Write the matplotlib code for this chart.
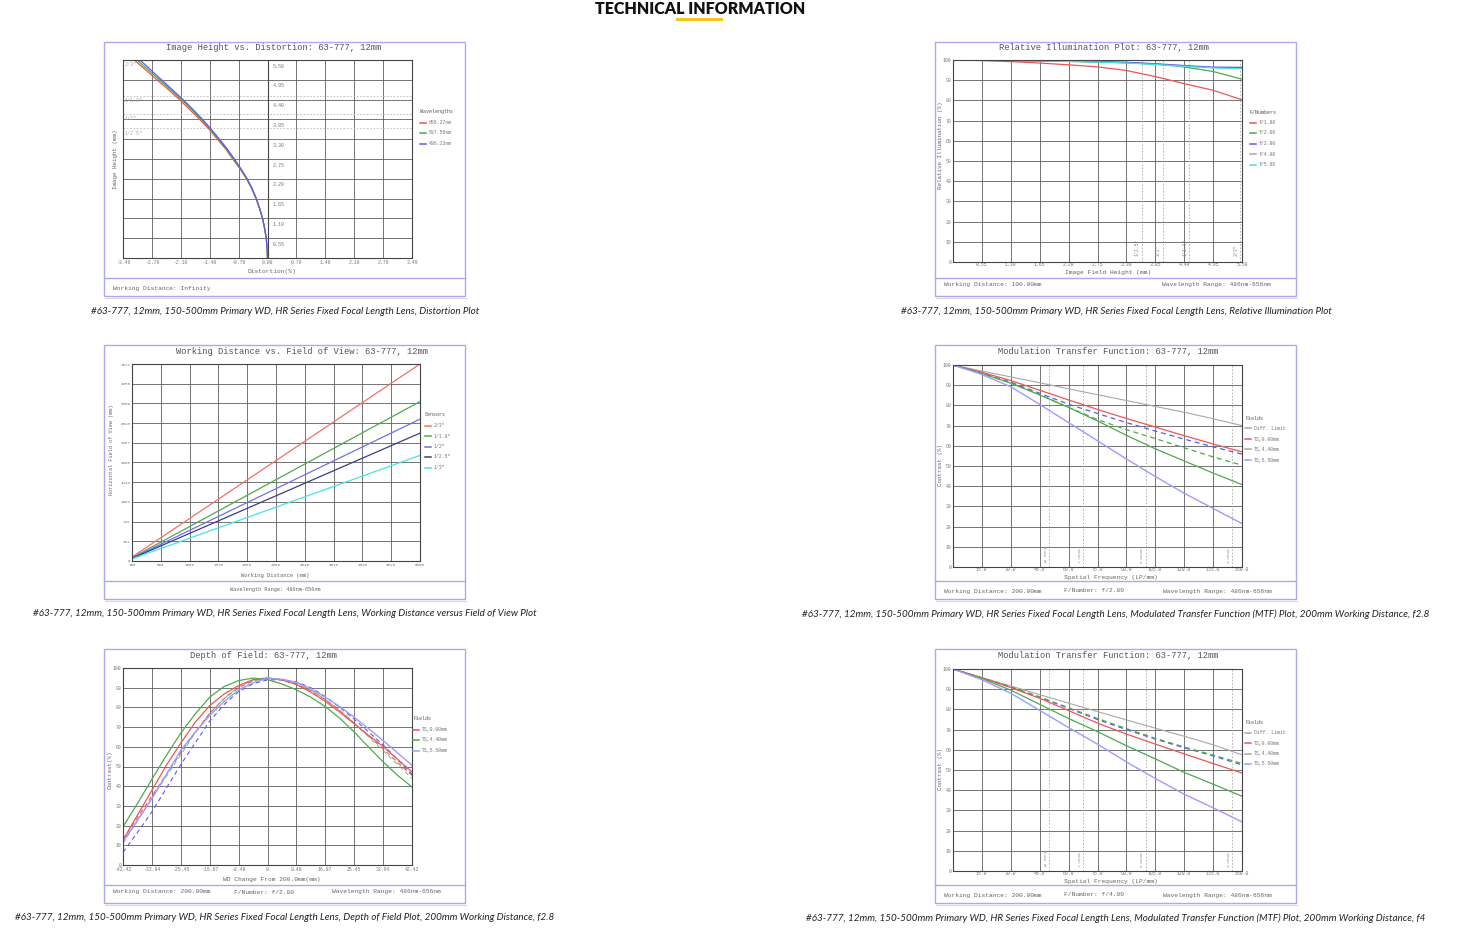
"""
Technical information sheet for lens #63-777 (12mm HR series):
six small monospace lens plots in framed boxes, each with a caption.
Writes out.png (1464x944).
"""
import matplotlib
matplotlib.use("Agg")
import matplotlib.pyplot as plt
from matplotlib.lines import Line2D
from matplotlib.patches import Rectangle

# ---------------- data ----------------
# distortion plot: image height (mm) vs distortion (%)
dist_height = [0, 0.275, 0.55, 0.825, 1.10, 1.375, 1.65, 1.925, 2.20, 2.475, 2.75,
               3.025, 3.30, 3.575, 3.85, 4.125, 4.40, 4.675, 4.95, 5.225, 5.50]
dist_656 = [0, -0.01, -0.03, -0.07, -0.12, -0.19, -0.28, -0.38, -0.51, -0.66, -0.84,
            -1.01, -1.21, -1.41, -1.64, -1.88, -2.13, -2.39, -2.67, -2.94, -3.22]
dist_588 = [0, -0.01, -0.03, -0.07, -0.12, -0.19, -0.27, -0.37, -0.50, -0.65, -0.82,
            -0.99, -1.18, -1.38, -1.60, -1.83, -2.08, -2.34, -2.61, -2.88, -3.15]
dist_486 = [0, -0.01, -0.03, -0.07, -0.12, -0.19, -0.27, -0.37, -0.49, -0.64, -0.80,
            -0.97, -1.16, -1.36, -1.57, -1.80, -2.04, -2.30, -2.56, -2.82, -3.08]
dist_xticks = [-3.49, -2.79, -2.10, -1.40, -0.70, 0.00, 0.70, 1.40, 2.10, 2.79, 3.49]
dist_yticks = [0.55, 1.10, 1.65, 2.20, 2.75, 3.30, 3.85, 4.40, 4.95, 5.50]
sensor_names = ['2/3"', '1/1.8"', '1/2"', '1/2.5"']
sensor_half_diag = [5.5, 4.5, 4.0, 3.6]

# relative illumination: % vs image field height (mm)
ri_height = [0, 0.55, 1.10, 1.65, 2.20, 2.75, 3.30, 3.85, 4.40, 4.95, 5.50]
ri_f18 = [100, 99.7, 99.2, 98.5, 97.6, 96.6, 94.8, 91.8, 88.3, 85.0, 80.3]
ri_f20 = [100, 99.9, 99.7, 99.5, 99.3, 99.0, 98.7, 98.0, 96.6, 94.3, 90.5]
ri_f28 = [100, 99.9, 99.8, 99.7, 99.5, 99.2, 98.8, 98.1, 97.2, 96.4, 96.3]
ri_f40 = [100, 99.9, 99.8, 99.6, 99.4, 99.1, 98.6, 97.9, 97.0, 96.2, 95.9]
ri_f56 = [100, 99.9, 99.8, 99.6, 99.3, 99.0, 98.5, 97.8, 96.9, 96.1, 95.7]
ri_labels = ["f/1.80", "f/2.00", "f/2.80", "f/4.00", "f/5.60"]
ri_sensor_x = [3.6, 4.0, 4.5, 5.47]
ri_sensor_names = ['1/2.5"', '1/2"', '1/1.8"', '2/3"']

# working distance vs horizontal field of view (straight lines, end points)
wd_x = [100, 5000]
fov_23 = [72, 3611]
fov_118 = [59, 2923]
fov_12 = [52, 2600]
fov_125 = [47, 2344]
fov_13 = [39, 1936]
wd_xticks = [100, 590, 1080, 1570, 2060, 2550, 3040, 3530, 4020, 4510, 5000]
wd_yticks = [0, 361, 722, 1083, 1444, 1806, 2167, 2528, 2889, 3250, 3611]
wd_labels = ['2/3"', '1/1.8"', '1/2"', '1/2.5"', '1/3"']

# MTF at f/2.8 and f/4, 200mm WD
freq = [0, 15, 30, 45, 60, 75, 90, 105, 120, 135, 150]
mtf28_diff = [100, 97.0, 94.1, 91.2, 88.2, 85.3, 82.4, 79.5, 76.6, 73.4, 70.0]
mtf28_t0 = [100, 96.4, 92.3, 87.5, 82.7, 78.0, 73.5, 69.3, 65.0, 60.9, 57.0]
mtf28_t44 = [100, 95.8, 91.0, 85.2, 79.0, 72.3, 65.2, 58.5, 52.5, 46.5, 40.8]
mtf28_s44 = [100, 95.8, 91.2, 85.3, 79.0, 73.0, 68.0, 63.6, 59.0, 54.5, 50.4]
mtf28_t55 = [100, 95.3, 89.2, 80.5, 71.5, 62.5, 53.5, 44.8, 36.5, 29.0, 21.5]
mtf28_s55 = [100, 96.0, 91.5, 86.0, 80.6, 76.0, 71.5, 67.3, 63.3, 59.5, 55.9]

mtf40_diff = [100, 95.8, 91.6, 87.3, 83.1, 78.9, 74.8, 70.7, 66.7, 62.5, 57.5]
mtf40_t0 = [100, 95.6, 90.8, 85.5, 79.4, 73.2, 67.8, 62.8, 58.0, 53.2, 48.5]
mtf40_t44 = [100, 95.3, 89.5, 82.5, 75.5, 69.0, 62.0, 55.5, 48.8, 43.0, 37.0]
mtf40_s44 = [100, 95.6, 91.2, 86.2, 80.8, 75.5, 70.5, 65.7, 61.4, 57.4, 53.2]
mtf40_t55 = [100, 94.7, 88.0, 79.5, 71.0, 62.8, 54.0, 45.8, 38.0, 31.3, 24.3]
mtf40_s55 = [100, 95.5, 91.0, 86.0, 80.5, 75.0, 70.0, 65.3, 61.0, 57.0, 52.5]

mtf_xticks = [15, 30, 45, 60, 75, 90, 105, 120, 135, 150]
pixel_nyquist = [50.0, 67.6, 100.0, 144.9]
pixel_names = ["10.00um", "7.40um", "5.00um", "3.45um"]
field_labels = ["Diff. Limit", "TS,0.00mm", "TS,4.40mm", "TS,5.50mm"]

# depth of field: contrast vs WD change (mm)
dof_x = [-42.42, -38.18, -33.94, -29.69, -25.45, -21.21, -16.97, -12.73, -8.48, -4.24, 0,
         4.24, 8.48, 12.73, 16.97, 21.21, 25.45, 29.69, 33.94, 38.18, 42.42]
dof_t0 = [12.6, 25.3, 37.9, 50.6, 61.9, 72.5, 80.9, 86.8, 91.1, 94.1, 94.9,
          93.9, 91.6, 87.7, 83.1, 77.6, 71.7, 65.8, 60.2, 53.6, 47.2]
dof_s0 = [13.0, 24.0, 35.0, 46.0, 57.0, 67.5, 77.0, 84.5, 90.0, 93.5, 95.0,
          94.0, 92.0, 88.5, 84.0, 78.5, 72.0, 65.5, 59.0, 52.0, 45.5]
dof_t44 = [19.4, 31.2, 43.5, 55.6, 67.0, 76.7, 85.2, 90.6, 93.6, 94.9, 94.1,
           91.9, 88.9, 85.2, 80.4, 74.5, 67.5, 59.9, 52.3, 45.5, 39.6]
dof_s44 = [11.0, 22.5, 34.0, 45.0, 56.0, 67.0, 77.0, 84.5, 90.5, 93.8, 94.8,
           94.3, 92.5, 88.8, 84.0, 78.3, 72.0, 65.0, 58.0, 51.0, 44.0]
dof_t55 = [11.8, 22.5, 33.7, 46.0, 58.2, 67.5, 75.9, 83.0, 88.9, 92.5, 94.8,
           94.3, 92.7, 89.4, 85.2, 80.4, 75.0, 69.2, 63.2, 56.9, 50.6]
dof_s55 = [6.5, 16.5, 27.0, 39.0, 51.0, 62.0, 73.0, 81.5, 88.0, 92.0, 94.0,
           94.0, 93.0, 90.0, 85.5, 80.0, 74.0, 67.5, 61.0, 53.5, 46.0]
dof_xticks = [-42.42, -33.94, -25.45, -16.97, -8.48, 0, 8.48, 16.97, 25.45, 33.94, 42.42]
dof_xticklabels = ["-42.42", "-33.94", "-25.45", "-16.97", "-8.48", "0",
                   "8.48", "16.97", "25.45", "33.94", "42.42"]

caption_head = "#63-777, 12mm, 150-500mm Primary WD, HR Series Fixed Focal Length Lens, "
captions = [
    "Distortion Plot",
    "Relative Illumination Plot",
    "Working Distance versus Field of View Plot",
    "Modulated Transfer Function (MTF) Plot, 200mm Working Distance, f2.8",
    "Depth of Field Plot, 200mm Working Distance, f2.8",
    "Modulated Transfer Function (MTF) Plot, 200mm Working Distance, f4",
]

# ---------------- style ----------------
W, H = 1464, 944
MONO = "Liberation Mono"
plt.rcParams["font.family"] = [MONO, "DejaVu Sans Mono"]

RED = "#ee5555"
GREEN = "#4daa4d"
BLUE = "#5c5cea"
LBLUE = "#9c9cff"
GRAY = "#a8a8a8"
NAVY = "#3c3c8c"
CYAN = "#44e4e4"
FRAME = "#aaaaee"
TXT = "#666666"
TITLE_SIZE = 6.3
FOOT_SIZE = 4.5

fig = plt.figure(figsize=(W / 100, H / 100), dpi=100)
fig.patch.set_facecolor("white")


def fx(px):
    return px / W


def fy(py):
    return 1 - py / H


def ftext(x, y, s, **kw):
    kw.setdefault("fontsize", 4.2)
    kw.setdefault("color", TXT)
    kw.setdefault("va", "center")
    fig.text(fx(x), fy(y), s, **kw)


def frame(x0, y0, x1, y1, sep):
    fig.add_artist(Rectangle((fx(x0), fy(y1)), (x1 - x0) / W, (y1 - y0) / H,
                             transform=fig.transFigure, fill=False, ec=FRAME, lw=1.0))
    fig.add_artist(Line2D([fx(x0), fx(x1)], [fy(sep), fy(sep)],
                          transform=fig.transFigure, color=FRAME, lw=1.0))
    fig.add_artist(Line2D([fx(x0 + 1), fx(x1 + 1)], [fy(y1 + 1.5)] * 2,
                          transform=fig.transFigure, color="#d8d8d8", lw=0.8))


def add_plot(x0, y0, x1, y1, xpad=1.0):
    ax = fig.add_axes([fx(x0), fy(y1), (x1 - x0) / W, (y1 - y0) / H])
    for s in ax.spines.values():
        s.set_color("#444444")
        s.set_linewidth(0.8)
    ax.tick_params(length=0, labelsize=3.5, labelcolor="#777777")
    ax.tick_params(axis="x", pad=xpad)
    ax.tick_params(axis="y", pad=1.2)
    ax.grid(True, color="#5e5e5e", lw=0.6)
    ax.set_axisbelow(True)
    return ax


def legend(x, y, title, labels, colors, styles=None):
    ftext(x, y, title, fontsize=3.6, color="#555555")
    for i, (lab, c) in enumerate(zip(labels, colors)):
        yy = y + 10.5 * (i + 1)
        ls = styles[i] if styles else "-"
        fig.add_artist(Line2D([fx(x), fx(x + 6)], [fy(yy)] * 2, transform=fig.transFigure,
                              color=c, lw=1.1, ls=ls))
        ftext(x + 9, yy, lab, fontsize=3.5, color="#777777")


# ---------------- header ----------------
fig.text(fx(700), fy(9), "TECHNICAL INFORMATION", ha="center", va="center",
         family="Lato", weight="heavy", fontsize=11.5, color="#111111")
fig.add_artist(Rectangle((fx(676), fy(21)), 47 / W, 2.5 / H, transform=fig.transFigure,
                         color="#f5c518", lw=0))

# ---------------- panel 1: distortion ----------------
frame(104, 42, 465, 296, 278)
ftext(274, 48, "Image Height vs. Distortion: 63-777, 12mm", ha="center",
      fontsize=TITLE_SIZE, color="#555555")
ax = add_plot(123, 60, 412, 258, xpad=1.5)
ax.set_xlim(-3.49, 3.49)
ax.set_ylim(0, 5.5)
ax.set_xticks(dist_xticks)
ax.set_xticklabels([f"{v:.2f}" for v in dist_xticks])
ax.set_yticks(dist_yticks)
ax.set_yticklabels([])
for v in dist_yticks:
    ax.text(0.12, v - 0.1, f"{v:.2f}", fontsize=3.6, color="#777777", va="top")
for name, hd in zip(sensor_names, sensor_half_diag):
    ax.axhline(hd, color="#bbbbbb", lw=0.6, ls=(0, (2, 2)))
    ax.text(-3.45, hd - 0.06, name, fontsize=3.6, color="#aaaaaa", va="top")
ax.axvline(0, color="#444444", lw=0.8)
ax.plot(dist_656, dist_height, color=RED, lw=0.9)
ax.plot(dist_588, dist_height, color=GREEN, lw=0.9)
ax.plot(dist_486, dist_height, color=BLUE, lw=0.9)
ftext(115, 159, "Image Height (mm)", rotation=90, ha="center")
ftext(272, 272, "Distortion(%)", ha="center", fontsize=4.5)
legend(420, 112, "Wavelengths", ["656.27nm", "587.56nm", "486.13nm"], [RED, GREEN, BLUE])
ftext(113, 288, "Working Distance: Infinity", fontsize=FOOT_SIZE)

# ---------------- panel 2: relative illumination ----------------
frame(935, 42, 1296, 296, 278)
ftext(1104, 48, "Relative Illumination Plot: 63-777, 12mm", ha="center",
      fontsize=TITLE_SIZE, color="#555555")
ax = add_plot(953, 60, 1242, 262, xpad=0.3)
ax.set_xlim(0, 5.5)
ax.set_ylim(0, 100)
ax.set_xticks(ri_height[1:])
ax.set_xticklabels([f"{v:.2f}" for v in ri_height[1:]])
ax.set_yticks(range(0, 101, 10))
for xs, name in zip(ri_sensor_x, ri_sensor_names):
    ax.axvline(xs, color="#aaaaaa", lw=0.6, ls=(0, (2, 2)))
    ax.text(xs - 0.04, 3, name, rotation=90, fontsize=3.4, color="#888888", ha="right", va="bottom")
ax.plot(ri_height, ri_f18, color=RED, lw=0.9)
ax.plot(ri_height, ri_f20, color=GREEN, lw=0.9)
ax.plot(ri_height, ri_f40, color=GRAY, lw=0.9)
ax.plot(ri_height, ri_f28, color=BLUE, lw=1.1)
ax.plot(ri_height, ri_f56, color=CYAN, lw=0.9)
ftext(940, 145, "Relative Illumination (%)", rotation=90, ha="center")
ftext(1108, 272.5, "Image Field Height (mm)", ha="center", fontsize=4.5)
legend(1250, 112, "F/Numbers", ri_labels, [RED, GREEN, BLUE, GRAY, CYAN])
ftext(944, 285, "Working Distance: 100.00mm", fontsize=FOOT_SIZE)
ftext(1162, 285, "Wavelength Range: 486nm-656nm", fontsize=FOOT_SIZE)

# ---------------- panel 3: working distance vs FOV ----------------
frame(104, 345, 465, 599, 581)
ftext(302, 351, "Working Distance vs. Field of View: 63-777, 12mm", ha="center",
      fontsize=TITLE_SIZE, color="#555555")
ax = add_plot(132, 364, 420, 561, xpad=1.5)
ax.set_xlim(100, 5000)
ax.set_ylim(0, 3611)
ax.set_xticks(wd_xticks)
ax.set_yticks(wd_yticks)
ax.tick_params(labelsize=3.0)
ax.plot(wd_x, fov_23, color="#f07070", lw=0.9)
ax.plot(wd_x, fov_118, color=GREEN, lw=0.9)
ax.plot(wd_x, fov_12, color="#7070ee", lw=0.9)
ax.plot(wd_x, fov_125, color=NAVY, lw=0.9)
ax.plot(wd_x, fov_13, color=CYAN, lw=0.9)
ftext(112, 450, "Horizontal Field of View (mm)", rotation=90, ha="center", fontsize=3.7)
ftext(275, 576, "Working Distance (mm)", ha="center", fontsize=4.0)
legend(425, 415, "Sensors", wd_labels, ["#f07070", GREEN, "#7070ee", NAVY, CYAN])
ftext(275, 589, "Wavelength Range: 486nm-656nm", ha="center", fontsize=3.8)


# ---------------- MTF panels ----------------
def mtf_panel(top, fnum, diff, t0, t44, s44, t55, s55):
    frame(935, top, 1296, top + 254, top + 236)
    ftext(1108, top + 6, "Modulation Transfer Function: 63-777, 12mm", ha="center",
          fontsize=TITLE_SIZE, color="#555555")
    ax = add_plot(953, top + 20, 1242, top + 222, xpad=0.3)
    ax.set_xlim(0, 150)
    ax.set_ylim(0, 100)
    ax.set_xticks(mtf_xticks)
    ax.set_xticklabels([f"{v:.1f}" for v in mtf_xticks])
    ax.set_yticks(range(0, 101, 10))
    for xs, name in zip(pixel_nyquist, pixel_names):
        ax.axvline(xs, color="#aaaaaa", lw=0.6, ls=(0, (2, 2)))
        ax.text(xs - 1.0, 2, name, rotation=90, fontsize=3.2, color="#999999", ha="right", va="bottom")
    ax.plot(freq, diff, color=GRAY, lw=0.8)
    ax.plot(freq, s55, color=BLUE, lw=0.9, ls=(0, (4, 3)))
    ax.plot(freq, s44, color=GREEN, lw=0.9, ls=(0, (4, 3)))
    ax.plot(freq, t0, color=RED, lw=0.9)
    ax.plot(freq, t44, color=GREEN, lw=0.9)
    ax.plot(freq, t55, color=LBLUE, lw=1.0)
    ftext(940, top + 120, "Contrast (%)", rotation=90, ha="center")
    ftext(1111, top + 232, "Spatial Frequency (LP/mm)", ha="center", fontsize=4.5)
    legend(1245, top + 73, "Fields", field_labels, [GRAY, RED, GRAY, LBLUE])
    ftext(944, top + 246, "Working Distance: 200.00mm", fontsize=FOOT_SIZE)
    ftext(1064, top + 246, f"F/Number: {fnum}", fontsize=FOOT_SIZE)
    ftext(1163, top + 246, "Wavelength Range: 486nm-656nm", fontsize=FOOT_SIZE)


mtf_panel(345, "f/2.80", mtf28_diff, mtf28_t0, mtf28_t44, mtf28_s44, mtf28_t55, mtf28_s55)
mtf_panel(649, "f/4.00", mtf40_diff, mtf40_t0, mtf40_t44, mtf40_s44, mtf40_t55, mtf40_s55)

# ---------------- panel 5: depth of field ----------------
frame(104, 649, 465, 903, 885)
ftext(263, 656, "Depth of Field: 63-777, 12mm", ha="center", fontsize=TITLE_SIZE, color="#555555")
ax = add_plot(123, 668, 412, 865, xpad=1.5)
ax.set_xlim(-42.42, 42.42)
ax.set_ylim(0, 100)
ax.set_xticks(dof_xticks)
ax.set_xticklabels(dof_xticklabels)
ax.set_yticks(range(0, 101, 10))
ax.plot(dof_x, dof_s0, color=RED, lw=0.8, ls=(0, (4, 3)))
ax.plot(dof_x, dof_s44, color=GREEN, lw=0.8, ls=(0, (4, 3)), alpha=0.7)
ax.plot(dof_x, dof_s55, color=BLUE, lw=0.8, ls=(0, (4, 3)))
ax.plot(dof_x, dof_t0, color=RED, lw=0.9)
ax.plot(dof_x, dof_t44, color=GREEN, lw=0.9)
ax.plot(dof_x, dof_t55, color=LBLUE, lw=1.0)
ftext(110, 770, "Contrast(%)", rotation=90, ha="center")
ftext(272, 879.5, "WD Change From 200.0mm(mm)", ha="center", fontsize=4.5)
legend(413, 719, "Fields", field_labels[1:], [RED, GREEN, LBLUE])
ftext(113, 892, "Working Distance: 200.00mm", fontsize=FOOT_SIZE)
ftext(234, 892, "F/Number: f/2.80", fontsize=FOOT_SIZE)
ftext(332, 892, "Wavelength Range: 486nm-656nm", fontsize=FOOT_SIZE)

# ---------------- captions ----------------
cap_pos = [(285, 311), (1116, 311), (285, 614), (1116, 614), (285, 918), (1116, 918)]
for (cx, cy), tail in zip(cap_pos, captions):
    fig.text(fx(cx), fy(cy), caption_head + tail, ha="center", va="center",
             family="Lato", style="italic", fontsize=7.1, color="#222222")

fig.savefig("out.png", dpi=100)
